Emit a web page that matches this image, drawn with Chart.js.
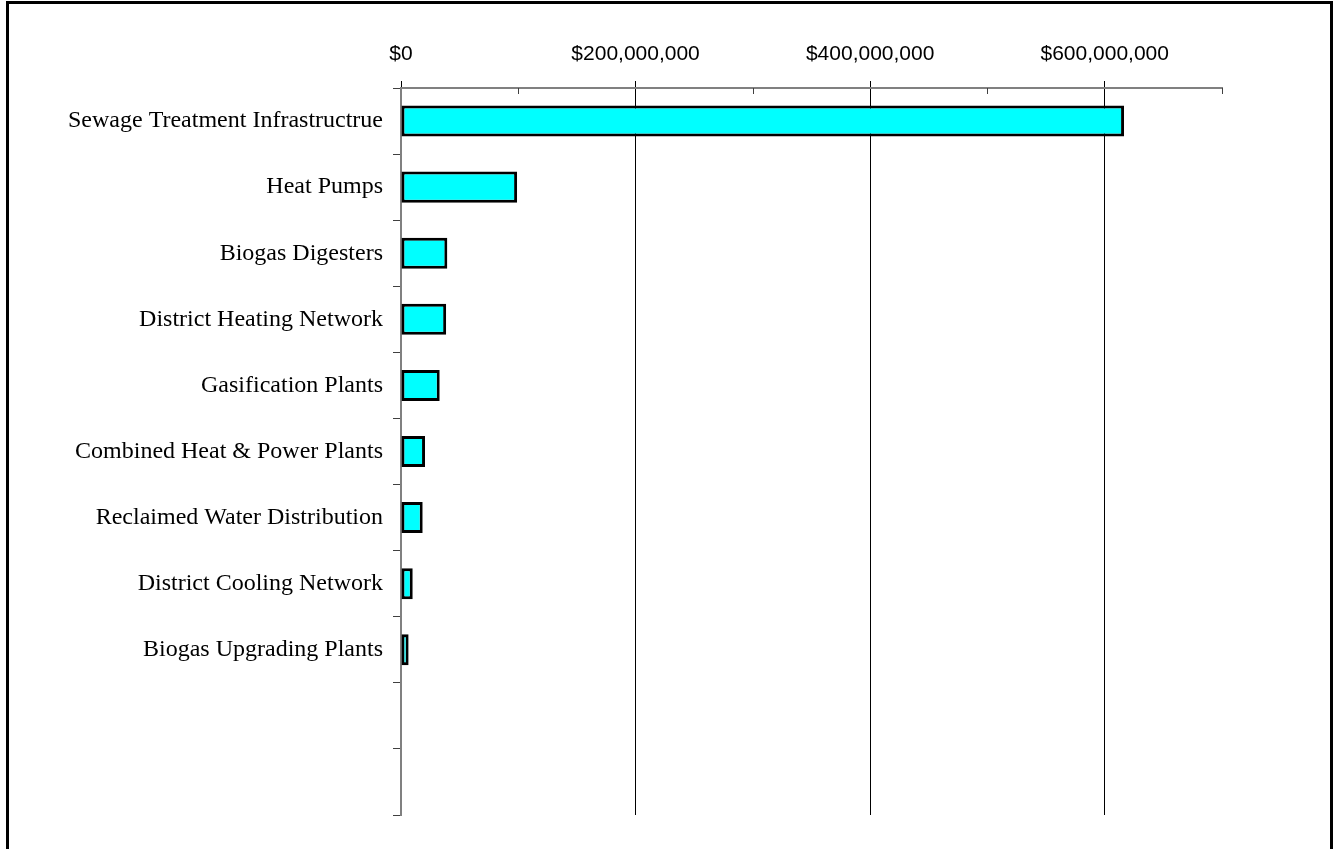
<!DOCTYPE html>
<html>
<head>
<meta charset="utf-8">
<script src="https://cdn.jsdelivr.net/npm/chart.js@4.4.1/dist/chart.umd.min.js"></script>
<style>
  html, body { margin: 0; padding: 0; background: #fff; overflow: hidden; }
  #frame {
    position: absolute; left: 6px; top: 1px;
    width: 1321px; height: 900px;
    border: 3px solid #000;
  }
  #wrap { position: absolute; left: 0; top: 0; width: 1343px; height: 849px; }
</style>
</head>
<body>
<div id="frame"></div>
<div id="wrap"><canvas id="costChart"></canvas></div>
<script>
// capital cost by infrastructure type (two empty slots at the bottom, as in the source)
const categories = [
  'Sewage Treatment Infrastructrue',
  'Heat Pumps',
  'Biogas Digesters',
  'District Heating Network',
  'Gasification Plants',
  'Combined Heat & Power Plants',
  'Reclaimed Water Distribution',
  'District Cooling Network',
  'Biogas Upgrading Plants',
  '',
  ''
];
const costs = [616500000, 99000000, 39500000, 38500000, 33000000, 20500000, 18500000, 10000000, 6500000, null, null];
const axisMax = 700000000;
const axisStep = 100000000;
const labelStep = 200000000;
const lastLabel = 600000000;

function money(v) {
  return '$' + v.toLocaleString('en-US');
}

// short inward ticks at the unlabelled steps of the value axis
const minorTicks = {
  id: 'minorTicks',
  afterDraw(chart) {
    const sx = chart.scales.x;
    const ctx = chart.ctx;
    ctx.save();
    ctx.strokeStyle = '#404040';
    ctx.lineWidth = 1;
    sx.ticks.forEach(t => {
      if (t.value % labelStep !== 0) {
        const x = Math.round(sx.getPixelForValue(t.value)) + 0.5;
        ctx.beginPath();
        ctx.moveTo(x, sx.bottom);
        ctx.lineTo(x, sx.bottom + 6);
        ctx.stroke();
      }
    });
    ctx.restore();
  }
};

const ctx = document.getElementById('costChart').getContext('2d');
new Chart(ctx, {
  type: 'bar',
  data: {
    labels: categories,
    datasets: [{
      data: costs,
      backgroundColor: '#00FFFF',
      borderColor: '#000000',
      borderWidth: 3,
      borderSkipped: false,
      categoryPercentage: 1,
      barPercentage: 0.47
    }]
  },
  options: {
    indexAxis: 'y',
    responsive: true,
    maintainAspectRatio: false,
    animation: false,
    layout: { padding: { left: 0, top: 0, right: 121, bottom: 34 } },
    plugins: {
      legend: { display: false },
      tooltip: { enabled: false }
    },
    scales: {
      x: {
        position: 'top',
        min: 0,
        max: axisMax,
        afterFit(scale) { scale.height = 88; },
        ticks: {
          stepSize: axisStep,
          autoSkip: false,
          maxRotation: 0,
          padding: 14,
          color: '#000',
          font: { family: '"Liberation Sans", Arial, sans-serif', size: 21 },
          callback: v => (v % labelStep === 0 && v <= lastLabel) ? money(v) : ''
        },
        grid: {
          color: c => (c.tick && c.tick.value % labelStep === 0 && c.tick.value <= lastLabel) ? '#000' : 'rgba(0,0,0,0)',
          tickColor: c => (c.tick && c.tick.value % labelStep === 0 && c.tick.value <= lastLabel) ? '#000' : 'rgba(0,0,0,0)',
          lineWidth: 1,
          tickLength: 7
        },
        border: { color: '#808080', width: 2 }
      },
      y: {
        afterFit(scale) { scale.width = 401; },
        ticks: {
          padding: 10,
          color: '#000',
          font: { family: '"Liberation Serif", "Times New Roman", serif', size: 24 }
        },
        grid: {
          offset: true,
          drawOnChartArea: false,
          tickColor: '#404040',
          tickLength: 8
        },
        border: { color: '#808080', width: 2 }
      }
    }
  },
  plugins: [minorTicks]
});
</script>
</body>
</html>
